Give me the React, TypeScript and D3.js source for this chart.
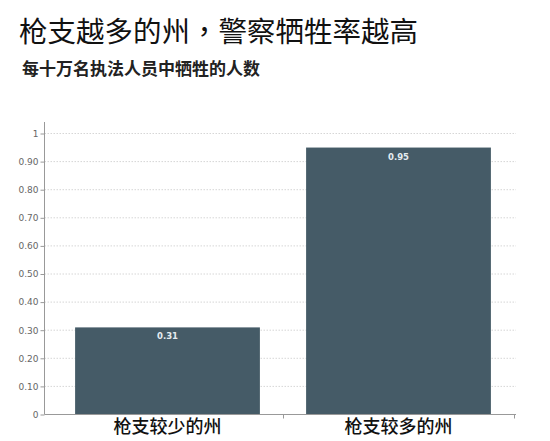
import { useEffect, useRef } from 'react';
import * as d3 from 'd3';

const categories = ['枪支较少的州', '枪支较多的州'];
const values = [0.31, 0.95];
const yTicks = [0, 0.1, 0.2, 0.3, 0.4, 0.5, 0.6, 0.7, 0.8, 0.9, 1];
const yTickLabels = ['0', '0.10', '0.20', '0.30', '0.40', '0.50', '0.60', '0.70', '0.80', '0.90', '1'];

const title = '枪支越多的州，警察牺牲率越高';
const subtitle = '每十万名执法人员中牺牲的人数';

const WIDTH = 550;
const HEIGHT = 441;
const BAR_COLOR = '#455b67';
const CJK = '"Noto Sans CJK SC", "Noto Sans", sans-serif';
const NUM = '"DejaVu Sans", Verdana, sans-serif';

export default function App() {
  const svgRef = useRef<SVGSVGElement>(null);

  useEffect(() => {
    if (!svgRef.current) return;
    const svg = d3.select(svgRef.current);
    svg.selectAll('*').remove();

    const axisX = 44.5;
    const yScale = d3.scaleLinear().domain([0, 1]).range([414.5, 133.5]);
    const xScale = d3
      .scaleBand<string>()
      .domain(categories)
      .range([52, 514])
      .paddingInner(0.2)
      .paddingOuter(0.1);

    svg
      .append('text')
      .attr('x', 19)
      .attr('y', 42)
      .attr('font-family', '"Noto Sans CJK TC", "Noto Sans CJK SC", sans-serif')
      .attr('font-size', 28.5)
      .attr('fill', '#111')
      .text(title);

    svg
      .append('text')
      .attr('x', 22)
      .attr('y', 75)
      .attr('font-family', CJK)
      .attr('font-size', 17)
      .attr('font-weight', 'bold')
      .attr('fill', '#222')
      .text(subtitle);

    // dotted grid
    svg
      .append('g')
      .selectAll('line')
      .data(yTicks.filter((t) => t > 0))
      .enter()
      .append('line')
      .attr('x1', axisX)
      .attr('x2', 516)
      .attr('y1', (d) => yScale(d))
      .attr('y2', (d) => yScale(d))
      .attr('stroke', '#d6d6d6')
      .attr('stroke-width', 1)
      .attr('stroke-dasharray', '1.5,1.5');

    // bars
    svg
      .append('g')
      .selectAll('rect')
      .data(values)
      .enter()
      .append('rect')
      .attr('x', (_, i) => xScale(categories[i])!)
      .attr('y', (d) => yScale(d))
      .attr('width', xScale.bandwidth())
      .attr('height', (d) => yScale(0) - yScale(d))
      .attr('fill', BAR_COLOR);

    svg
      .append('g')
      .selectAll('text')
      .data(values)
      .enter()
      .append('text')
      .attr('x', (_, i) => xScale(categories[i])! + xScale.bandwidth() / 2)
      .attr('y', (d) => yScale(d) + 12)
      .attr('text-anchor', 'middle')
      .attr('font-family', NUM)
      .attr('font-size', 8.5)
      .attr('font-weight', 'bold')
      .attr('fill', '#e4ecf0')
      .text((d) => d.toFixed(2));

    // y axis
    const yAxis = d3
      .axisLeft(yScale)
      .tickValues(yTicks)
      .tickSize(4)
      .tickPadding(2)
      .tickFormat((_, i) => yTickLabels[i]);
    const yg = svg.append('g').attr('transform', `translate(${axisX},0)`).call(yAxis);
    yg.select('.domain').remove();
    yg.selectAll('line').attr('stroke', '#999');
    yg.selectAll('text').attr('font-family', NUM).attr('font-size', 9).attr('fill', '#666');
    svg
      .append('line')
      .attr('x1', axisX)
      .attr('x2', axisX)
      .attr('y1', 122)
      .attr('y2', yScale(0))
      .attr('stroke', '#999');

    // x axis
    const step = xScale.step();
    const boundaries = categories.map(
      (c) => xScale(c)! + xScale.bandwidth() + (step - xScale.bandwidth()) / 2
    );
    svg
      .append('line')
      .attr('x1', axisX)
      .attr('x2', 516)
      .attr('y1', yScale(0))
      .attr('y2', yScale(0))
      .attr('stroke', '#999');
    svg
      .append('g')
      .selectAll('line')
      .data(boundaries)
      .enter()
      .append('line')
      .attr('x1', (d) => Math.round(d) + 0.5)
      .attr('x2', (d) => Math.round(d) + 0.5)
      .attr('y1', yScale(0))
      .attr('y2', yScale(0) + 4)
      .attr('stroke', '#999');

    svg
      .append('g')
      .selectAll('text')
      .data(categories)
      .enter()
      .append('text')
      .attr('x', (d) => xScale(d)! + xScale.bandwidth() / 2)
      .attr('y', 433)
      .attr('text-anchor', 'middle')
      .attr('font-family', CJK)
      .attr('font-size', 18)
      .attr('font-weight', 500)
      .attr('fill', '#111')
      .text((d) => d);
  }, []);

  return (
    <div style={{ position: 'absolute', left: 0, top: 0, width: WIDTH, height: HEIGHT, background: '#fff' }}>
      <svg ref={svgRef} width={WIDTH} height={HEIGHT}></svg>
    </div>
  );
}
